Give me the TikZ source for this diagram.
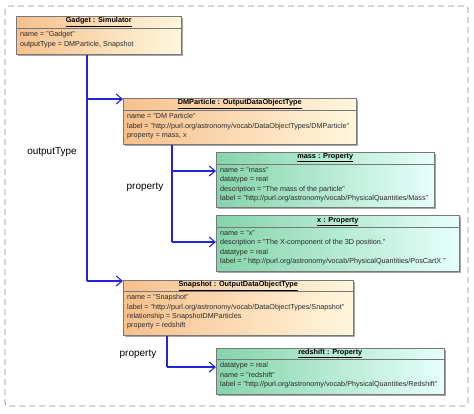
\documentclass[tikz,border=0pt]{standalone}
\usepackage{fontspec}
\setmainfont{Liberation Sans}
\usetikzlibrary{arrows.meta,shadows}
\definecolor{conn}{HTML}{2424D8}
\definecolor{orL}{HTML}{F7C08C}
\definecolor{orR}{HTML}{FFF7DE}
\definecolor{grL}{HTML}{84D4AA}
\definecolor{grR}{HTML}{E6FFFB}
\definecolor{edgec}{HTML}{787878}
\definecolor{txt}{HTML}{2A2A2A}
\definecolor{frame}{HTML}{8C8C8C}
\begin{document}
\begin{tikzpicture}[x=1pt,y=-1pt,
  box/.style={draw=edgec, line width=0.6pt, anchor=north west, inner sep=0pt,
    drop shadow={shadow xshift=2pt,shadow yshift=-2pt,opacity=0.35,fill=black}},
  obox/.style={box, left color=orL, right color=orR},
  gbox/.style={box, left color=grL, right color=grR},
  sepline/.style={draw=edgec, line width=0.6pt},
  ttl/.style={font=\fontsize{7.3}{8}\selectfont\bfseries, text=black, inner sep=0pt},
  attrs/.style={font=\fontsize{7.2}{9.3}\selectfont, text=txt, align=left, anchor=north west, inner sep=0pt},
  conn/.style={draw=conn, line width=1.3pt},
  arr/.style={conn, -{Straight Barb[length=6pt,width=10pt,line width=1.1pt]}},
  lbl/.style={font=\fontsize{10}{12}\selectfont, text=black, inner sep=0pt}]
\useasboundingbox (0,0) rectangle (474,413);
\draw[frame, line width=0.8pt, dash pattern=on 6pt off 4pt, rounded corners=3pt] (5,6) rectangle (468,406);

% Gadget
\node[obox, minimum width=165pt, minimum height=38pt] (gadget) at (16,16) {};
\draw[sepline] ([yshift=-12pt]gadget.north west) -- ([yshift=-12pt]gadget.north east);
\node[ttl] (gadgetT) at ([yshift=-6pt]gadget.north) {\underline{Gadget : Simulator}};
\node[attrs] (gadgetA) at ([xshift=4pt,yshift=-15.5pt]gadget.north west) {name = "Gadget"\\outputType = DMParticle, Snapshot};

% DMParticle
\node[obox, minimum width=233pt, minimum height=46pt] (dm) at (123,98) {};
\draw[sepline] ([yshift=-12pt]dm.north west) -- ([yshift=-12pt]dm.north east);
\node[ttl] (dmT) at ([yshift=-6pt]dm.north) {\underline{DMParticle : OutputDataObjectType}};
\node[attrs] (dmA) at ([xshift=4pt,yshift=-15.5pt]dm.north west) {name = "DM Particle"\\label = "http://purl.org/astronomy/vocab/DataObjectTypes/DMParticle"\\property = mass, x};

% mass
\node[gbox, minimum width=218pt, minimum height=55pt] (mass) at (216,152) {};
\draw[sepline] ([yshift=-12pt]mass.north west) -- ([yshift=-12pt]mass.north east);
\node[ttl] (massT) at ([yshift=-6pt]mass.north) {\underline{mass : Property}};
\node[attrs] (massA) at ([xshift=4pt,yshift=-15.5pt]mass.north west) {name = "mass"\\datatype = real\\description = "The mass of the particle"\\label = "http://purl.org/astronomy/vocab/PhysicalQuantities/Mass"};

% x
\node[gbox, minimum width=243pt, minimum height=56pt] (xp) at (216,215) {};
\draw[sepline] ([yshift=-12.5pt]xp.north west) -- ([yshift=-12.5pt]xp.north east);
\node[ttl] (xpT) at ([yshift=-6.5pt]xp.north) {\underline{x : Property}};
\node[attrs] (xpA) at ([xshift=4pt,yshift=-15.5pt]xp.north west) {name = "x"\\description = "The X-component of the 3D position."\\datatype = real\\label = " http://purl.org/astronomy/vocab/PhysicalQuantities/PosCartX "};

% Snapshot
\node[obox, minimum width=230pt, minimum height=55pt] (snap) at (123,280) {};
\draw[sepline] ([yshift=-11.5pt]snap.north west) -- ([yshift=-11.5pt]snap.north east);
\node[ttl] (snapT) at ([yshift=-6pt]snap.north) {\underline{Snapshot : OutputDataObjectType}};
\node[attrs] (snapA) at ([xshift=4pt,yshift=-14.5pt]snap.north west) {name = "Snapshot"\\label = "http://purl.org/astronomy/vocab/DataObjectTypes/Snapshot"\\relationship = SnapshotDMParticles\\property = redshift};

% redshift
\node[gbox, minimum width=228pt, minimum height=46pt] (red) at (216,348) {};
\draw[sepline] ([yshift=-11pt]red.north west) -- ([yshift=-11pt]red.north east);
\node[ttl] (redT) at ([yshift=-5.5pt]red.north) {\underline{redshift : Property}};
\node[attrs] (redA) at ([xshift=4pt,yshift=-14.5pt]red.north west) {datatype = real\\name = "redshift"\\label = "http://purl.org/astronomy/vocab/PhysicalQuantities/Redshift"};

% connectors
\coordinate (j1) at (87,99);
\coordinate (j2) at (87,281);
\coordinate (k1) at (172,171);
\coordinate (k2) at (172,242);
\coordinate (m1) at (167,367);
\draw[conn] (gadget.south -| j1) -- (j2);
\draw[arr] (j1) -- (dm.west |- j1);
\draw[arr] (j2) -- (snap.west |- j2);
\draw[conn] (dm.south -| k1) -- (k2);
\draw[arr] (k1) -- (mass.west |- k1);
\draw[arr] (k2) -- (xp.west |- k2);
\draw[conn] (snap.south -| m1) -- (m1);
\draw[arr] (m1) -- (red.west |- m1);

% labels
\node[lbl] (l1) at (52,152) {outputType};
\node[lbl] (l2) at (145,187) {property};
\node[lbl] (l3) at (138,354) {property};
\end{tikzpicture}
\end{document}
